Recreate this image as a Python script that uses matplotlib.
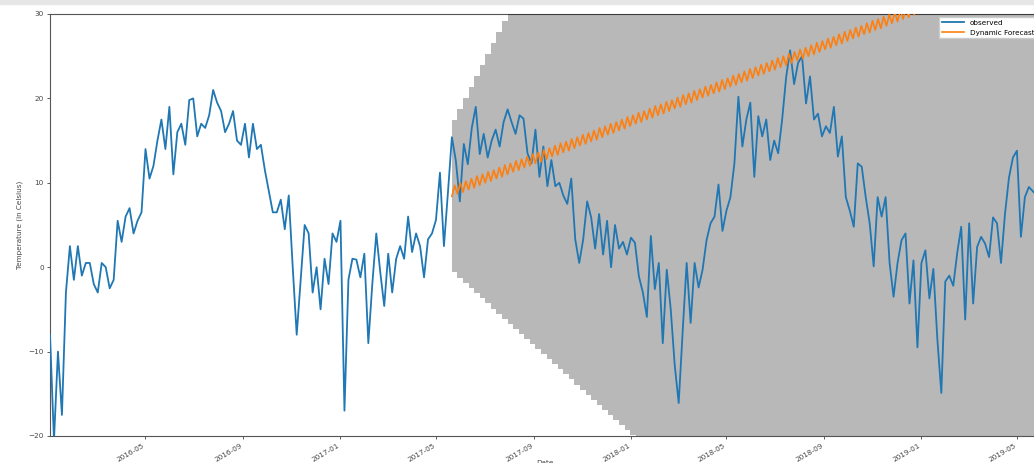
"""Observed daily temperature vs. a dynamic forecast with its confidence band."""
import matplotlib
matplotlib.use("Agg")
import matplotlib.pyplot as plt  # noqa: E402
import matplotlib.dates as mdates  # noqa: E402
from matplotlib.patches import Rectangle  # noqa: E402
import numpy as np  # noqa: E402
import pandas as pd  # noqa: E402

# observed temperature, one reading every 5 days from 2016-01-02
obs_start = "2016-01-02"
observed = [
    -8, -20.5, -10, -17.5, -3, 2.5, -1.5, 2.5, -1, 0.5,
    0.5, -2, -3, 0.5, 0, -2.5, -1.5, 5.5, 3, 6,
    7, 4, 5.5, 6.5, 14, 10.5, 12, 15, 17.5, 14,
    19, 11, 16, 17, 14.5, 19.8, 20, 15.5, 17, 16.5,
    18, 21, 19.5, 18.5, 16, 17, 18.5, 15, 14.5, 17,
    13, 17, 14, 14.5, 11.5, 9, 6.5, 6.5, 8, 4.5,
    8.5, 0, -8, -1.5, 5, 4, -3, 0, -5, 1,
    -2, 4, 3, 5.5, -17, -1.5, 1, 0.9, -1.2, 1.6,
    -9, -2, 4, -0.6, -4.6, 1.6, -3, 1, 2.5, 1,
    6, 1.8, 4, 2.5, -1.2, 3.3, 4, 5.6, 11.2, 2.5,
    8.8, 15.4, 12.6, 7.8, 14.6, 12.2, 16.5, 19, 13.4, 15.8,
    13, 15, 16.3, 14.3, 17.2, 18.7, 17.2, 15.8, 18, 17.6,
    13.5, 12.3, 16.3, 10.7, 14.3, 9.6, 12.7, 9.6, 10, 8.5,
    7.5, 10.5, 3.3, 0.5, 3.3, 7.8, 5.9, 2.2, 6.3, 1.5,
    5.5, 0, 5, 2.2, 3, 1.5, 3.5, 2.9, -1.1, -3,
    -5.9, 3.7, -2.6, 0.5, -9, -0.3, -5, -11.6, -16.1, -7.6,
    0.5, -6.6, 0.5, -2.4, -0.3, 3.2, 5.2, 6, 9.8, 4.3,
    6.7, 8.3, 12.3, 20.2, 14.3, 17.5, 19.5, 10.7, 17.9, 15.5,
    17.5, 12.7, 15, 13.5, 17.5, 22.5, 25.7, 21.7, 24.2, 25,
    19.4, 22.6, 17.5, 18.2, 15.5, 16.7, 15.9, 19, 13.1, 15.5,
    8.3, 6.7, 4.8, 12.3, 11.9, 8.3, 5.2, 0.1, 8.3, 6,
    8.3, 0.5, -3.5, 0.5, 3.2, 4, -4.3, 0.8, -9.5, 0.5,
    2, -3.7, -0.2, -8.5, -14.9, -1.7, -1, -2.2, 1.7, 4.8,
    -6.2, 5.2, -4.3, 2.4, 3.6, 2.8, 1.2, 5.9, 5.2, 0.5,
    6.3, 10.6, 13, 13.8, 3.6, 8.3, 9.5, 9, 8.5,
]

# dynamic forecast: alternating lows / highs every 3.5 days from 2017-05-21
fc_start = "2017-05-21"
fc_lows = [
    8.4, 8.7, 8.9, 9.2, 9.4, 9.7, 10.0, 10.2, 10.5, 10.7,
    11.0, 11.3, 11.5, 11.8, 12.0, 12.3, 12.5, 12.8, 13.1, 13.3,
    13.6, 13.8, 14.1, 14.4, 14.6, 14.9, 15.1, 15.4, 15.7, 15.9,
    16.2, 16.4, 16.7, 17.0, 17.2, 17.5, 17.7, 18.0, 18.2, 18.5,
    18.8, 19.0, 19.3, 19.5, 19.8, 20.1, 20.3, 20.6, 20.8, 21.1,
    21.4, 21.6, 21.9, 22.1, 22.4, 22.7, 22.9, 23.2, 23.4, 23.7,
    23.9, 24.2, 24.5, 24.7, 25.0, 25.2, 25.5, 25.8, 26.0, 26.3,
    26.5, 26.8, 27.1, 27.3, 27.6, 27.8, 28.1, 28.3, 28.6, 28.9,
    29.1, 29.4, 29.6, 29.9, 30.2, 30.4, 30.7,
]
fc_highs = [
    9.7, 10.0, 10.2, 10.5, 10.8, 11.0, 11.3, 11.5, 11.8, 12.1,
    12.3, 12.6, 12.8, 13.1, 13.4, 13.6, 13.9, 14.1, 14.4, 14.7,
    14.9, 15.2, 15.4, 15.7, 15.9, 16.2, 16.5, 16.7, 17.0, 17.2,
    17.5, 17.8, 18.0, 18.3, 18.5, 18.8, 19.1, 19.3, 19.6, 19.8,
    20.1, 20.4, 20.6, 20.9, 21.1, 21.4, 21.6, 21.9, 22.2, 22.4,
    22.7, 22.9, 23.2, 23.5, 23.7, 24.0, 24.2, 24.5, 24.8, 25.0,
    25.3, 25.5, 25.8, 26.0, 26.3, 26.6, 26.8, 27.1, 27.3, 27.6,
    27.9, 28.1, 28.4, 28.6, 28.9, 29.2, 29.4, 29.7, 29.9, 30.2,
    30.5, 30.7, 31.0, 31.2, 31.5, 31.7,
]

# weekly confidence interval of the forecast
ci_lower = [
    -0.6, -1.3, -1.9, -2.5, -3.1, -3.7, -4.3, -4.9, -5.5, -6.1,
    -6.7, -7.3, -7.9, -8.5, -9.1, -9.7, -10.3, -10.9, -11.5, -12.1,
    -12.7, -13.3, -13.9, -14.5, -15.1, -15.7, -16.3, -16.9, -17.5, -18.1,
    -18.7, -19.3, -19.9, -20.5, -21.1,
]
ci_upper = [
    17.5, 18.8, 20.1, 21.4, 22.7, 24.0, 25.3, 26.6, 27.9, 29.2,
    30.5, 31.8, 33.1, 34.4, 35.7, 37.0, 38.3, 39.6, 40.9, 42.2,
    43.5, 44.8, 46.1, 47.4, 48.7, 50.0, 51.3, 52.6, 53.9, 55.2,
    56.5, 57.8, 59.1, 60.4, 61.7,
]
view_end = "2019-05-30"

obs = pd.Series(observed, index=pd.date_range(obs_start, periods=len(observed), freq="5D"))
fc_vals = np.empty(len(fc_lows) + len(fc_highs))
fc_vals[0::2] = fc_lows
fc_vals[1::2] = fc_highs
fc = pd.Series(fc_vals, index=pd.date_range(fc_start, periods=len(fc_vals), freq="84h"))
ci_idx = pd.date_range(fc_start, periods=len(ci_lower), freq="7D")

fig = plt.figure(figsize=(10.34, 4.63), dpi=100)
ax = fig.add_axes([50 / 1034, 27 / 463, 990 / 1034, 422 / 463])

ax.plot(obs.index, obs.values, color="#1f77b4", lw=1.3, label="observed", zorder=4)
ax.plot(fc.index, fc.values, color="#ff7f0e", lw=1.2, label="Dynamic Forecast", zorder=4)
ax.fill_between(ci_idx, ci_lower, ci_upper, step="post", color="k", alpha=0.28, lw=0, zorder=3)
ax.axvspan(ci_idx[-1], pd.Timestamp(view_end), color="k", alpha=0.28, lw=0, zorder=3)

ax.set_xlim(pd.Timestamp(obs_start), pd.Timestamp(view_end))
ax.set_ylim(-20, 30)
ax.xaxis.set_major_locator(mdates.MonthLocator(bymonth=[1, 5, 9]))
ax.xaxis.set_major_formatter(mdates.DateFormatter("%Y-%m"))
ax.tick_params(axis="both", labelsize=5.2, length=2.5, width=0.6, colors="#444444", pad=2)
for lbl in ax.get_xticklabels():
    lbl.set_rotation(30)
    lbl.set_ha("right")
for s in ax.spines.values():
    s.set_color("#555555")
    s.set_linewidth(0.8)

ax.set_ylabel("Temperature (in Celsius)", fontsize=5.2, color="#444444", labelpad=4)
ax.set_xlabel("Date", fontsize=5.2, color="#444444", labelpad=-2)
leg = ax.legend(loc="upper right", fontsize=5.2, borderaxespad=0.4, handlelength=3,
                fancybox=False, framealpha=1, edgecolor="#cccccc")
leg.set_zorder(5)

# light strip of the window border above the chart
fig.patches.append(Rectangle((0, 1 - 4 / 463), 1, 4 / 463, transform=fig.transFigure,
                             color="#e6e6e6", zorder=0))

fig.savefig("out.png", dpi=100)
